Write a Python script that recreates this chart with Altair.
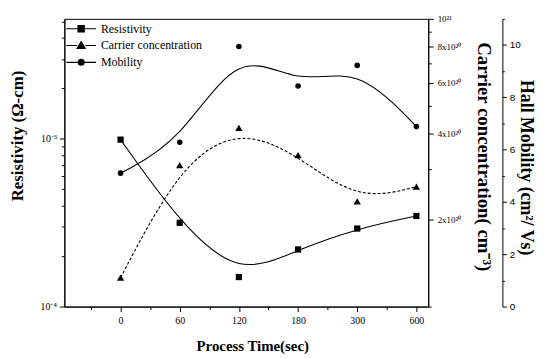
import altair as alt
import pandas as pd

# ---- data ----
times = ["0", "60", "120", "180", "300", "600"]
resistivity = [9.9e-4, 3.16e-4, 1.5e-4, 2.19e-4, 2.92e-4, 3.47e-4]
carrier = [1.26e20, 3.1e20, 4.18e20, 3.36e20, 2.32e20, 2.61e20]
mobility = [5.1, 6.28, 9.94, 8.43, 9.22, 6.88]
series = ["Resistivity", "Carrier concentration", "Mobility"]

res_ticks = [1e-4, 2e-4, 3e-4, 4e-4, 5e-4, 6e-4, 7e-4, 8e-4, 9e-4, 1e-3, 2e-3, 3e-3, 4e-3, 5e-3]
car_ticks = [1e20, 2e20, 3e20, 4e20, 5e20, 6e20, 7e20, 8e20, 9e20, 1e21]
car_labels = ["", "", "2x10²⁰", "", "4x10²⁰", "", "6x10²⁰", "", "8x10²⁰", "", "10²¹"]
mob_ticks = list(range(0, 12))
x_ticks = [i / 2 for i in range(-1, 11)]

df = pd.DataFrame({
    "pos": list(range(len(times))),
    "time": times,
    "res": resistivity,
    "car": carrier,
    "mob": mobility,
})

SERIF = "Liberation Serif"
SANS = "Liberation Sans"

x_enc = alt.X(
    "pos:Q",
    scale=alt.Scale(domain=[-0.95, 5.2], nice=False, zero=False),
    axis=alt.Axis(
        values=x_ticks,
        labelExpr="datum.value % 1 == 0 ? " + str(times) + "[datum.value] : ''",
        tickSize={"condition": {"test": "datum.value % 1 == 0", "value": 5}, "value": 3},
        title="Process Time(sec)",
        titleFont=SERIF, titleFontSize=15, titleFontWeight="bold",
        titleX=190, titleY=39, titleBaseline="middle",
        labelFont=SERIF, labelFontSize=10, labelPadding=4,
        grid=False, domainColor="black", tickColor="black", labelColor="black",
        titleColor="black", labelFlush=False,
    ),
)

base = alt.Chart(df)

res_y = alt.Y(
    "res:Q",
    scale=alt.Scale(type="log", domain=[1e-4, 5.2e-3], nice=False),
    axis=alt.Axis(
        orient="left",
        values=res_ticks,
        labelExpr="abs(log(datum.value)/LN10 + 4) < 0.01 ? '10⁻⁴' : (abs(log(datum.value)/LN10 + 3) < 0.01 ? '10⁻³' : '')",
        tickSize={"condition": {"test": "abs(log(datum.value)/LN10 - round(log(datum.value)/LN10)) < 0.01", "value": 5}, "value": 3},
        title="Resistivity (Ω-cm)",
        titleFont=SERIF, titleFontSize=17, titleFontWeight="bold",
        titleX=-47, titleY=118, titleBaseline="middle",
        labelFont=SERIF, labelFontSize=10, labelPadding=3,
        grid=False, domainColor="black", tickColor="black", labelColor="black",
        titleColor="black", labelFlush=False,
    ),
)

car_y = alt.Y(
    "car:Q",
    scale=alt.Scale(type="log", domain=[1e20, 1e21], nice=False),
    axis=alt.Axis(
        orient="right",
        values=car_ticks,
        labelExpr=str(car_labels) + "[round(datum.value/1e20)]",
        tickSize={"condition": {"test": "round(datum.value/1e20) % 2 == 0", "value": 5}, "value": 3},
        title="Carrier concentration( cm⁻³)",
        titleFont=SERIF, titleFontSize=19, titleFontWeight="bold",
        titleX=56, titleY=139, titleBaseline="middle",
        labelFont=SERIF, labelFontSize=9, labelPadding=4,
        grid=False, domainColor="black", tickColor="black", labelColor="black",
        titleColor="black", labelFlush=False,
    ),
)

mob_y = alt.Y(
    "mob:Q",
    scale=alt.Scale(domain=[0, 11], nice=False),
    axis=alt.Axis(
        orient="right",
        offset=75,
        values=mob_ticks,
        labelExpr="datum.value % 2 == 0 && datum.value <= 10 ? datum.value : ''",
        tickSize={"condition": {"test": "datum.value % 2 == 0", "value": 4}, "value": 2},
        title="Hall Mobility (cm²/ Vs)",
        titleFont=SERIF, titleFontSize=18, titleFontWeight="bold",
        titleX=23, titleY=150, titleBaseline="middle",
        labelFont=SANS, labelFontSize=10, labelPadding=3,
        grid=False, domainColor="black", tickColor="black", labelColor="black",
        titleColor="black", labelFlush=False,
    ),
)

line_style = dict(interpolate="basis", color="black", strokeWidth=1.1)

res_line = base.mark_line(**line_style).encode(x=x_enc, y=res_y)
res_pts = base.mark_point(filled=True, shape="square", size=40, color="black", opacity=1).encode(x=x_enc, y=res_y)


# legend glyphs "—■—", "—▲—", "—●—" drawn as outlines only (unit = 10 px)
def _sq(h):
    return f"M{-h},{-h}H{h}V{h}H{-h}Z"


def _tri(k):
    return f"M0,{-0.4 * k}L{0.42 * k},{0.3 * k}H{-0.42 * k}Z"


def _circ(r):
    return f"M{-r},0A{r},{r},0,1,1,{r},0A{r},{r},0,1,1,{-r},0Z"


path_sq = "M-1.5,0H-0.32M0.32,0H1.5" + "".join(_sq(h) for h in (0.32, 0.22, 0.12, 0.03))
path_tri = "M-1.5,0H-0.42M0.42,0H1.5" + "".join(_tri(k) for k in (1.0, 0.72, 0.45, 0.18))
path_circ = "M-1.5,0H-0.3M0.3,0H1.5" + "".join(_circ(r) for r in (0.3, 0.2, 0.1, 0.03))

legend_layer = (
    alt.Chart(pd.DataFrame({"series": series}))
    .mark_point(filled=False, color="black", strokeWidth=1, opacity=1)
    .encode(
        shape=alt.Shape(
            "series:N",
            scale=alt.Scale(domain=series, range=[path_sq, path_tri, path_circ]),
            legend=alt.Legend(
                title=None, orient="none", legendX=6, legendY=-1,
                symbolSize=400, symbolStrokeColor="black",
                symbolStrokeWidth=1.1, symbolOpacity=1,
                labelFont=SERIF, labelFontSize=12, labelColor="black",
                labelOffset=9, rowPadding=0, padding=0,
            ),
        )
    )
    .transform_filter("false")
)

car_line = base.mark_line(strokeDash=[3, 2], **line_style).encode(x=x_enc, y=car_y)
car_pts = base.mark_point(filled=True, shape="triangle-up", size=55, color="black", opacity=1).encode(x=x_enc, y=car_y)

mob_line = base.mark_line(**line_style).encode(x=x_enc, y=mob_y)
mob_pts = base.mark_point(filled=True, shape="circle", size=32, color="black", opacity=1).encode(x=x_enc, y=mob_y)

res_group = alt.layer(res_line, res_pts, legend_layer)
car_group = alt.layer(car_line, car_pts)
mob_group = alt.layer(mob_line, mob_pts)

chart = (
    alt.layer(res_group, car_group, mob_group)
    .resolve_scale(y="independent")
    .properties(
        width=368, height=291,
        padding={"left": 57, "top": 9, "right": 110, "bottom": 46},
        autosize=alt.AutoSizeParams(type="none"),
        background="white",
    )
    .configure_view(stroke="black", strokeWidth=1)
)

chart.save("out.html", embed_options={"renderer": "svg", "actions": False})
